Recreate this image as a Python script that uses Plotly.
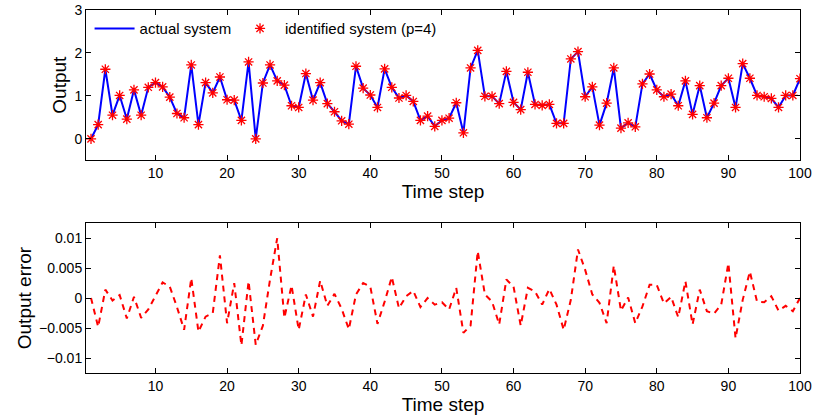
import plotly.graph_objects as go

steps = list(range(1, 101))

actual_output = [
    0.00, 0.33, 1.62, 0.55, 1.01, 0.46, 1.14, 0.55, 1.20, 1.31,
    1.21, 0.97, 0.59, 0.49, 1.72, 0.33, 1.31, 1.07, 1.44, 0.91,
    0.90, 0.43, 1.79, 0.00, 1.30, 1.72, 1.35, 1.25, 0.77, 0.73,
    1.52, 0.90, 1.31, 0.82, 0.63, 0.42, 0.34, 1.69, 1.18, 1.02,
    0.73, 1.63, 1.20, 0.95, 1.01, 0.87, 0.43, 0.53, 0.29, 0.43,
    0.48, 0.84, 0.14, 1.65, 2.06, 0.99, 0.99, 0.82, 1.57, 0.85,
    0.68, 1.55, 0.80, 0.78, 0.80, 0.36, 0.36, 1.86, 2.03, 0.98,
    1.21, 0.32, 0.83, 1.65, 0.25, 0.37, 0.28, 1.28, 1.51, 1.14,
    0.98, 1.04, 0.77, 1.35, 0.57, 1.24, 0.49, 0.83, 1.24, 1.41,
    0.73, 1.75, 1.41, 1.01, 0.98, 0.94, 0.73, 1.01, 1.01, 1.40,
]

output_error = [
    0.0000, -0.0048, 0.0014, -0.0004, 0.0005, -0.0034, 0.0002, -0.0033, -0.0019, 0.0004,
    0.0026, 0.0019, -0.0015, -0.0053, 0.0033, -0.0056, -0.0031, -0.0025, 0.0071, -0.0042,
    0.0025, -0.0079, 0.0028, -0.0078, -0.0046, 0.0031, 0.0100, -0.0033, 0.0021, -0.0053,
    0.0006, -0.0031, 0.0029, -0.0013, 0.0007, -0.0018, -0.0052, 0.0006, 0.0025, 0.0019,
    -0.0043, -0.0006, 0.0035, -0.0017, 0.0003, 0.0012, -0.0015, 0.0000, -0.0011, -0.0007,
    -0.0019, 0.0017, -0.0058, -0.0046, 0.0078, 0.0006, -0.0006, -0.0044, 0.0031, 0.0019,
    -0.0046, 0.0017, 0.0011, -0.0011, 0.0015, -0.0011, -0.0053, -0.0003, 0.0081, 0.0047,
    0.0006, -0.0008, -0.0042, 0.0054, -0.0021, 0.0001, -0.0042, -0.0014, 0.0022, 0.0022,
    -0.0009, 0.0002, -0.0032, 0.0028, -0.0044, 0.0014, -0.0022, -0.0026, -0.0011, 0.0058,
    -0.0067, -0.0003, 0.0044, -0.0006, -0.0007, 0.0003, -0.0021, -0.0013, -0.0022, 0.0000,
]
identified_output = actual_output  # identified system matches the actual output

x_ticks = [10, 20, 30, 40, 50, 60, 70, 80, 90, 100]
top_y_ticks = [0, 1, 2, 3]
err_y_ticks = [-0.01, -0.005, 0, 0.005, 0.01]
err_y_labels = ["\u22120.01", "\u22120.005", "0", "0.005", "0.01"]

FONT = "Liberation Sans, Arial, sans-serif"
TITLE_SIZE = 19

fig = go.Figure()
fig.add_trace(go.Scatter(
    x=steps, y=actual_output, mode="lines", name="actual system",
    line=dict(color="#0000ff", width=2), xaxis="x", yaxis="y", legend="legend"))
fig.add_trace(go.Scatter(
    x=steps, y=identified_output, mode="markers", name="identified system (p=4)",
    marker=dict(symbol="asterisk-open", color="#ff0000", size=8.5,
                line=dict(color="#ff0000", width=1.3)), xaxis="x", yaxis="y",
    legend="legend2"))
fig.add_trace(go.Scatter(
    x=steps, y=output_error, mode="lines", showlegend=False,
    line=dict(color="#ff0000", width=2, dash="6px,5px"), xaxis="x2", yaxis="y2"))

axis_common = dict(showline=True, linecolor="black", linewidth=1, mirror="allticks",
                   ticks="inside", ticklen=5, tickcolor="black", showgrid=False,
                   zeroline=False, automargin=False,
                   tickfont=dict(size=14, color="black"))

legend_common = dict(orientation="h", y=0.994, xanchor="left", yanchor="top",
                     bgcolor="rgba(0,0,0,0)", font=dict(size=15), itemwidth=40)

fig.update_layout(
    width=813, height=417,
    margin=dict(l=86, r=13, t=10, b=44, autoexpand=False),
    paper_bgcolor="white", plot_bgcolor="white",
    font=dict(family=FONT, color="black", size=14),
    xaxis=dict(domain=[0, 1], range=[0.3, 100], tickvals=x_ticks, anchor="y",
               title=dict(text="Time step", font=dict(size=TITLE_SIZE), standoff=0), **axis_common),
    yaxis=dict(domain=[0.586, 1], range=[-0.5, 3], tickvals=top_y_ticks, anchor="x",
               title=dict(text="Output", font=dict(size=TITLE_SIZE), standoff=2), **axis_common),
    xaxis2=dict(domain=[0, 1], range=[0.3, 100], tickvals=x_ticks, anchor="y2",
                title=dict(text="Time step", font=dict(size=TITLE_SIZE), standoff=0), **axis_common),
    yaxis2=dict(domain=[0, 0.413], range=[-0.0125, 0.0125], tickvals=err_y_ticks,
                ticktext=err_y_labels, anchor="x2",
                title=dict(text="Output error", font=dict(size=TITLE_SIZE), standoff=2), **axis_common),
    legend=dict(x=0.005, **legend_common),
    legend2=dict(x=0.2087, **legend_common),
    showlegend=True,
)

fig.write_html("out.html")
